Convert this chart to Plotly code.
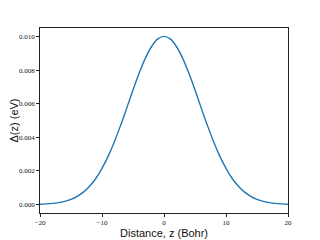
import plotly.graph_objects as go

# Data
z_bohr = list(range(-20, 21))
half = [0.00002, 0.00004, 0.00007, 0.00012, 0.00019, 0.00031, 0.00049, 0.00074,
        0.00109, 0.00155, 0.00215, 0.00288, 0.00374, 0.00471, 0.00575, 0.00681,
        0.00782, 0.00871, 0.00940, 0.00985]
delta_ev = half + [0.01000] + half[::-1]

x_ticks = [-20, -10, 0, 10, 20]
y_ticks = [0.000, 0.002, 0.004, 0.006, 0.008, 0.010]

W, H = 320, 240
L, R, T, B = 40, 32, 28, 27

fig = go.Figure()
fig.add_trace(go.Scatter(x=z_bohr, y=delta_ev, mode="lines",
                         line=dict(color="#1f77b4", width=1.4, shape="spline"),
                         showlegend=False))

axis_common = dict(showline=True, linecolor="#222", linewidth=0.8, mirror=True,
                   ticks="outside", ticklen=3, tickwidth=0.8, tickcolor="#222",
                   showgrid=False, zeroline=False, automargin=False,
                   tickfont=dict(family="Liberation Serif", size=7, color="#111"))

fig.update_layout(
    width=W, height=H,
    margin=dict(l=L, r=R, t=T, b=B),
    paper_bgcolor="white", plot_bgcolor="white",
    xaxis=dict(range=[-20, 20], tickvals=x_ticks, **axis_common),
    yaxis=dict(range=[-0.0005, 0.0105], tickvals=y_ticks, tickformat=".3f",
               **axis_common),
    annotations=[
        dict(text="Distance, z (Bohr)", xref="paper", yref="paper",
             x=0.5, y=-(232.5 - (H - B)) / (H - T - B), xanchor="center", yanchor="middle",
             showarrow=False, font=dict(family="Liberation Sans", size=11, color="#111")),
        dict(text="Δ(z) (eV)", xref="paper", yref="paper",
             x=-(L - 13) / (W - L - R), y=0.5, xanchor="center", yanchor="middle",
             textangle=-90, showarrow=False,
             font=dict(family="Liberation Sans", size=11, color="#111")),
    ],
)

fig.write_html("out.html", config={"displayModeBar": False},
               post_script="document.body.style.margin='0';")
